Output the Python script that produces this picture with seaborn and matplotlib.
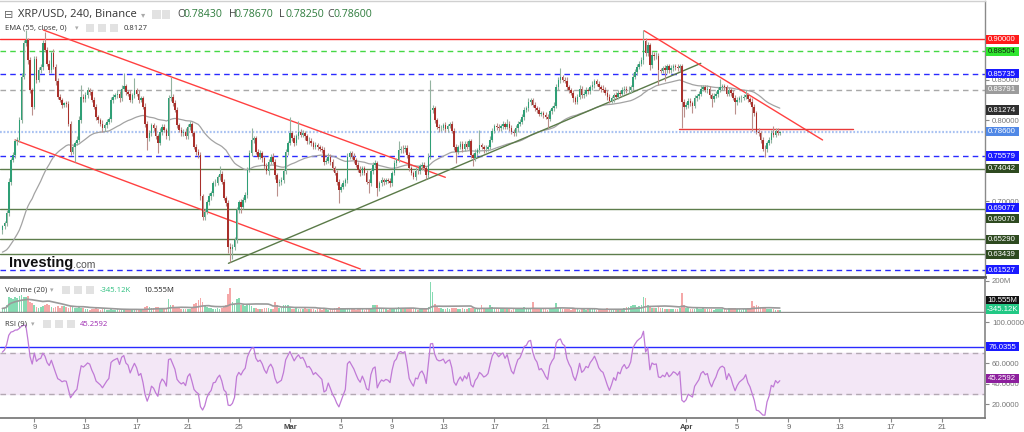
import numpy as np
import pandas as pd
import matplotlib
matplotlib.use("Agg")
import matplotlib.pyplot as plt
from matplotlib.patches import Rectangle
import seaborn as sns

# ---------------- data ----------------
title_text = "XRP/USD, 240, Binance"
header_keys = ["O", "H", "L", "C"]
header_vals = ["0.78430", "0.78670", "0.78250", "0.78600"]
ema_header = "EMA (55, close, 0)"
ema_header_val = "0.8127"
vol_header = "Volume (20)"
vol_header_vals = ["-345.12K", "10.555M"]
rsi_header = "RSI (9)"
rsi_header_val = "45.2592"

# 4h candles, first candle Feb 6 12:00 (days relative to Feb 9 00:00)
first_day = -2.5
first_open = 0.664
closes = [
    0.669, 0.673, 0.685, 0.724, 0.751, 0.757, 0.774, 0.776, 0.800, 0.854,
    0.895, 0.899, 0.874, 0.837, 0.817, 0.876, 0.850, 0.862, 0.866, 0.895,
    0.887, 0.870, 0.862, 0.883, 0.866, 0.848, 0.829, 0.825, 0.819, 0.821,
    0.820, 0.796, 0.761, 0.767, 0.772, 0.776, 0.800, 0.829, 0.826, 0.831,
    0.837, 0.835, 0.825, 0.817, 0.804, 0.800, 0.796, 0.790, 0.794, 0.798,
    0.801, 0.825, 0.829, 0.831, 0.833, 0.827, 0.839, 0.842, 0.835, 0.833,
    0.825, 0.831, 0.837, 0.833, 0.825, 0.827, 0.817, 0.796, 0.778, 0.784,
    0.794, 0.790, 0.780, 0.772, 0.786, 0.792, 0.788, 0.780, 0.827, 0.829,
    0.821, 0.813, 0.794, 0.788, 0.784, 0.786, 0.780, 0.792, 0.796, 0.784,
    0.767, 0.761, 0.757, 0.706, 0.681, 0.687, 0.699, 0.706, 0.710, 0.722,
    0.723, 0.730, 0.734, 0.724, 0.704, 0.698, 0.644, 0.641, 0.644, 0.652,
    0.689, 0.699, 0.693, 0.702, 0.708, 0.739, 0.759, 0.776, 0.778, 0.761,
    0.755, 0.759, 0.753, 0.743, 0.737, 0.749, 0.755, 0.749, 0.732, 0.722,
    0.724, 0.726, 0.737, 0.761, 0.772, 0.784, 0.778, 0.772, 0.780, 0.786,
    0.782, 0.784, 0.780, 0.774, 0.775, 0.772, 0.767, 0.769, 0.767, 0.765,
    0.763, 0.749, 0.750, 0.755, 0.749, 0.741, 0.735, 0.724, 0.714, 0.718,
    0.722, 0.726, 0.755, 0.759, 0.755, 0.751, 0.745, 0.739, 0.735, 0.741,
    0.735, 0.724, 0.722, 0.737, 0.745, 0.747, 0.716, 0.722, 0.726, 0.724,
    0.726, 0.725, 0.722, 0.735, 0.747, 0.751, 0.763, 0.765, 0.764, 0.766,
    0.757, 0.741, 0.735, 0.730, 0.738, 0.737, 0.743, 0.745, 0.741, 0.732,
    0.755, 0.813, 0.815, 0.800, 0.792, 0.790, 0.791, 0.794, 0.789, 0.793,
    0.795, 0.787, 0.767, 0.761, 0.767, 0.771, 0.765, 0.771, 0.767, 0.774,
    0.757, 0.753, 0.760, 0.763, 0.769, 0.767, 0.764, 0.765, 0.767, 0.776,
    0.787, 0.793, 0.792, 0.790, 0.793, 0.795, 0.792, 0.796, 0.791, 0.786,
    0.784, 0.790, 0.796, 0.798, 0.804, 0.813, 0.815, 0.823, 0.825, 0.819,
    0.815, 0.813, 0.808, 0.809, 0.807, 0.804, 0.802, 0.811, 0.815, 0.818,
    0.841, 0.850, 0.853, 0.850, 0.849, 0.841, 0.837, 0.834, 0.827, 0.823,
    0.829, 0.839, 0.831, 0.833, 0.837, 0.836, 0.841, 0.844, 0.848, 0.845,
    0.841, 0.839, 0.838, 0.834, 0.829, 0.824, 0.827, 0.831, 0.829, 0.834,
    0.833, 0.837, 0.839, 0.837, 0.838, 0.841, 0.854, 0.860, 0.866, 0.870,
    0.874, 0.898, 0.883, 0.893, 0.868, 0.881, 0.879, 0.880, 0.862, 0.861,
    0.864, 0.862, 0.867, 0.862, 0.864, 0.867, 0.866, 0.864, 0.867, 0.823,
    0.817, 0.819, 0.824, 0.821, 0.818, 0.827, 0.830, 0.833, 0.839, 0.841,
    0.838, 0.839, 0.831, 0.826, 0.830, 0.833, 0.838, 0.841, 0.842, 0.841,
    0.833, 0.837, 0.834, 0.828, 0.822, 0.825, 0.827, 0.828, 0.829, 0.831,
    0.826, 0.823, 0.817, 0.809, 0.786, 0.784, 0.776, 0.765, 0.764, 0.772,
    0.776, 0.784, 0.782, 0.787, 0.7843, 0.786,
]
# wick lengths beyond the body, in units of 0.001
up_wick = [
    2, 3, 4, 5, 3, 4, 3, 3, 4, 5,   4, 12, 3, 4, 3, 4, 3, 4, 3, 4,
    14, 3, 4, 3, 5, 3, 4, 3, 3, 2,  3, 4, 3, 3, 2, 4, 5, 15, 3, 4,
    4, 3, 3, 4, 3, 2, 3, 4, 3, 3,   3, 4, 3, 3, 4, 3, 4, 17, 3, 3,
    4, 3, 15, 3, 4, 3, 3, 4, 3, 4,  3, 3, 4, 3, 4, 3, 3, 3, 4, 25,
    3, 4, 3, 3, 4, 3, 4, 3, 3, 2,   3, 4, 3, 4, 3, 4, 3, 4, 3, 3,
    4, 3, 9, 3, 4, 3, 3, 4, 3, 4,   4, 3, 4, 3, 4, 3, 4, 14, 3, 3,
    3, 4, 3, 3, 4, 3, 3, 4, 3, 3,   3, 4, 3, 4, 3, 20, 3, 4, 3, 13,
    3, 4, 3, 3, 4, 3, 3, 4, 3, 3,   3, 4, 3, 4, 3, 3, 3, 4, 3, 3,
    4, 3, 4, 3, 3, 4, 3, 3, 4, 3,   3, 4, 3, 4, 3, 4, 3, 3, 4, 3,
    3, 3, 4, 3, 4, 3, 11, 3, 4, 3,  3, 4, 3, 3, 4, 3, 3, 4, 3, 3,
    4, 37, 4, 3, 3, 4, 3, 3, 4, 3,  3, 4, 3, 4, 3, 3, 4, 3, 4, 3,
    3, 3, 4, 3, 19, 3, 3, 4, 3, 4,  3, 3, 4, 3, 3, 4, 3, 6, 3, 3,
    3, 4, 3, 3, 4, 3, 3, 4, 3, 3,   3, 3, 4, 3, 3, 3, 4, 3, 3, 4,
    4, 3, 11, 3, 3, 4, 3, 3, 4, 3,  3, 4, 3, 3, 4, 3, 3, 4, 3, 3,
    3, 3, 4, 3, 3, 4, 3, 3, 4, 3,   3, 4, 3, 3, 4, 3, 4, 3, 4, 3,
    4, 13, 4, 4, 3, 4, 3, 4, 3, 3,  3, 4, 3, 3, 4, 3, 3, 4, 3, 3,
    3, 3, 4, 3, 3, 4, 3, 3, 4, 3,   3, 4, 3, 3, 4, 3, 3, 10, 3, 3,
    3, 4, 3, 3, 3, 4, 3, 3, 4, 6,   3, 3, 4, 3, 3, 4, 3, 3, 4, 3,
    3, 4, 9, 3, 3, 1,
]
dn_wick = [
    4, 3, 3, 3, 4, 3, 3, 4, 3, 3,   3, 3, 4, 3, 10, 3, 4, 3, 3, 4,
    3, 3, 4, 3, 3, 4, 3, 3, 4, 3,   3, 3, 4, 3, 18, 3, 3, 3, 4, 3,
    3, 4, 3, 3, 4, 3, 3, 4, 3, 3,   3, 3, 4, 3, 3, 4, 3, 3, 4, 3,
    3, 4, 3, 3, 4, 3, 3, 4, 15, 3,  4, 3, 3, 13, 3, 4, 3, 3, 4, 3,
    3, 3, 4, 3, 3, 4, 3, 3, 4, 3,   3, 4, 3, 4, 4, 4, 3, 3, 4, 3,
    3, 3, 4, 3, 3, 4, 8, 16, 12, 4, 3, 3, 8, 3, 3, 4, 3, 3, 4, 3,
    3, 3, 4, 3, 3, 4, 3, 3, 4, 16,  3, 4, 3, 3, 4, 3, 3, 4, 3, 3,
    3, 3, 4, 3, 3, 4, 3, 3, 4, 3,   3, 4, 3, 3, 4, 3, 3, 4, 16, 3,
    3, 3, 4, 3, 3, 4, 3, 3, 4, 3,   3, 3, 12, 3, 3, 4, 10, 3, 3, 4,
    3, 3, 4, 3, 3, 4, 3, 3, 4, 3,   3, 4, 3, 3, 4, 3, 3, 4, 3, 4,
    3, 3, 4, 3, 3, 4, 3, 3, 4, 3,   3, 3, 4, 14, 3, 3, 4, 3, 3, 4,
    3, 10, 3, 4, 3, 3, 4, 3, 3, 3,  3, 3, 4, 3, 3, 4, 3, 3, 4, 3,
    3, 3, 4, 3, 3, 4, 3, 3, 4, 3,   3, 4, 3, 3, 4, 3, 12, 3, 3, 4,
    3, 3, 4, 3, 3, 4, 3, 3, 4, 3,   3, 3, 4, 3, 3, 4, 3, 3, 4, 3,
    3, 4, 3, 3, 4, 3, 3, 4, 3, 3,   3, 3, 4, 3, 3, 4, 3, 3, 4, 3,
    3, 4, 3, 3, 6, 3, 4, 3, 18, 3,  3, 14, 3, 4, 3, 3, 4, 3, 3, 33,
    13, 3, 4, 3, 9, 3, 3, 4, 3, 3,  3, 4, 3, 9, 3, 3, 4, 3, 3, 4,
    3, 3, 4, 3, 14, 3, 3, 4, 3, 3,  3, 3, 30, 4, 3, 3, 4, 3, 9, 3,
    3, 4, 3, 3, 3, 2,
]
# volume per candle, millions
volumes = [
    20, 25, 40, 95, 90, 85, 92, 88, 100, 105,  98, 95, 102, 60, 55, 40, 30, 25, 30, 35,
    45, 50, 40, 30, 25, 30, 35, 25, 35, 35,    30, 25, 35, 30, 25, 20, 30, 25, 20, 15,
    15, 12, 18, 15, 20, 14, 12, 15, 18, 12,    10, 15, 12, 10, 14, 12, 18, 15, 12, 10,
    12, 14, 18, 12, 10, 15, 12, 30, 35, 30,    20, 25, 30, 28, 15, 15, 18, 20, 80, 45,
    40, 30, 20, 25, 18, 15, 15, 15, 18, 20,    50, 55, 75, 88, 60, 40, 30, 25, 20, 15,
    18, 20, 15, 20, 30, 40, 115, 155, 60, 50,  80, 90, 45, 40, 35, 50, 45, 35, 25, 20,
    18, 15, 18, 20, 25, 20, 15, 18, 60, 40,    25, 20, 45, 45, 40, 30, 18, 15, 20, 18,
    15, 18, 20, 15, 14, 18, 15, 12, 15, 14,    12, 20, 15, 12, 14, 18, 25, 22, 28, 20,
    22, 18, 25, 20, 15, 14, 12, 15, 18, 14,    12, 15, 18, 14, 45, 45, 40, 25, 18, 15,
    14, 12, 15, 18, 20, 25, 30, 20, 15, 14,    18, 22, 20, 15, 14, 12, 15, 18, 14, 16,
    30, 190, 130, 50, 30, 25, 20, 18, 15, 20,  18, 22, 25, 20, 18, 15, 20, 18, 15, 20,
    25, 22, 18, 15, 20, 45, 20, 18, 15, 45,    30, 20, 18, 15, 14, 18, 15, 20, 14, 12,
    15, 18, 20, 18, 25, 30, 20, 18, 15, 60,    25, 20, 15, 18, 14, 15, 12, 18, 20, 25,
    57, 25, 20, 18, 15, 14, 15, 12, 15, 18,    14, 12, 15, 14, 12, 15, 14, 18, 15, 12,
    14, 12, 15, 18, 20, 15, 12, 14, 12, 15,    14, 18, 25, 30, 28, 35, 45, 40, 30, 35,
    40, 97, 86, 40, 30, 25, 20, 25, 28, 22,    20, 18, 15, 18, 15, 14, 15, 18, 20, 122,
    40, 25, 20, 18, 15, 18, 20, 15, 18, 20,    15, 14, 18, 15, 12, 14, 15, 18, 15, 14,
    12, 25, 25, 22, 20, 15, 14, 12, 15, 18,    20, 25, 70, 35, 40, 35, 30, 25, 20, 18,
    15, 18, 14, 12, 10, 10.555,
]
ema_seed = 0.636
ema_span = 55
rsi_len = 9
rsi_seed_gain, rsi_seed_loss = 0.0045, 0.0021
vol_ma_len = 20

# horizontal levels drawn on the price pane
level_prices = [0.90000, 0.88504, 0.85735, 0.83791, 0.78600, 0.75579, 0.74042,
                0.69070, 0.65290, 0.63439, 0.61527]
# right-axis price labels
label_texts = ["0.90000", "0.88504", "0.85735", "0.83791", "0.81274", "0.78600",
               "0.75579", "0.74042", "0.69077", "0.69070", "0.65290", "0.63439", "0.61527"]
label_prices = [0.90000, 0.88504, 0.85735, 0.83791, 0.81274, 0.78600,
                0.75579, 0.74042, 0.69077, 0.69070, 0.65290, 0.63439, 0.61527]
# drawn trend lines: (day, price) start and end
trend_d0 = [0.705, -1.51, 15.19, 47.72, 50.46]
trend_p0 = [0.9115, 0.7757, 0.6234, 0.9106, 0.7890]
trend_d1 = [32.16, 25.51, 52.15, 61.68, 64.03]
trend_p1 = [0.7296, 0.6164, 0.8703, 0.7757, 0.7890]
rsi_level = 76.0355
rsi_label = "76.0355"
rsi_ticks = [20, 40, 60, 80, 100]
tick_days = [0, 4, 8, 12, 16, 20, 24, 28, 32, 36, 40, 44, 51, 55, 59, 63, 67, 71]
tick_labels = ["9", "13", "17", "21", "25", "Mar", "5", "9", "13", "17", "21", "25",
               "Apr", "5", "9", "13", "17", "21"]

# ---------------- styles ----------------
sns.set_theme(style="white")
plt.rcParams["font.family"] = ["Liberation Sans", "DejaVu Sans"]
HDR = ["Open Sans", "DejaVu Sans"]

level_colors = ["#ff2a2a", "#45d845", "#2a2aff", "#a8a8a8", "#a9c2f2", "#2a2aff", "#5d7d4c",
                "#5d7d4c", "#5d7d4c", "#5d7d4c", "#2a2aff"]
level_ls = ["solid", "dash", "dash", "dash", "dot", "dash", "solid", "solid", "solid", "solid", "dash"]
label_bg = ["#ff1a1a", "#2fe62f", "#1a1aff", "#9c9c9c", "#2f2f2f", "#5088e6",
            "#1a1aff", "#2e4a20", "#1a1aff", "#2e4a20", "#2e4a20", "#2e4a20", "#1a1aff"]
label_fg = ["white", "#102010", "white", "white", "white", "white",
            "white", "white", "white", "white", "white", "white", "white"]
label_dy = [0, 0, 0, 0, 0, 0, 0, 0, -1, 10, 0, 0, 0]
trend_colors = ["#ff4040", "#ff4040", "#5a7a48", "#ff4040", "#e83a3a"]
UP, DN = "#2f9f76", "#a9302b"
UPW, DNW = "#93b3a0", "#bb8f8b"

W, H = 1024, 432
RX = 985
fig = plt.figure(figsize=(W / 100, H / 100), dpi=100)
fig.patch.set_facecolor("white")


def fx(px):
    return px / W


def fy(py):
    return 1 - py / H


ax = fig.add_axes([0, fy(277), fx(RX), (277 - 1) / H])
axv = fig.add_axes([0, fy(311.5), fx(RX), (311.5 - 278.5) / H])
axr = fig.add_axes([0, fy(418), fx(RX), (418 - 312.5) / H])
XL = (-2.686, 74.39)

# ---------------- derived series ----------------
c = np.array(closes)
o = np.r_[first_open, c[:-1]]
n = len(c)
x = first_day + np.arange(n) / 6.0
up = c >= o
body_lo = np.minimum(o, c)
body_hi = np.maximum(o, c)
hi = body_hi + np.array(up_wick) * 0.001
lo = body_lo - np.array(dn_wick) * 0.001
ema = pd.Series(np.r_[ema_seed, c]).ewm(span=ema_span, adjust=False).mean().values[1:]
d = np.diff(np.r_[first_open, c])
g = pd.Series(np.r_[rsi_seed_gain, np.clip(d, 0, None)]).ewm(alpha=1 / rsi_len, adjust=False).mean().values[1:]
l = pd.Series(np.r_[rsi_seed_loss, np.clip(-d, 0, None)]).ewm(alpha=1 / rsi_len, adjust=False).mean().values[1:]
rsi = 100 - 100 / (1 + g / l)
vol = np.array(volumes, dtype=float)
vol_ma = pd.Series(vol).rolling(vol_ma_len, min_periods=1).mean().values

# ---------------- price pane ----------------
ax.set_xlim(*XL)
ax.set_ylim(0.6065, 0.9473)
for p, col, ls in zip(level_prices, level_colors, level_ls):
    if ls == "solid":
        ax.axhline(p, color=col, lw=1.0, zorder=1)
    elif ls == "dash":
        ax.axhline(p, color=col, lw=1.0, dashes=(4, 3), zorder=1)
    else:
        ax.axhline(p, color=col, lw=1.6, dashes=(0.8, 0.8), zorder=1)

sns.lineplot(x=x, y=ema, ax=ax, color="#a3a3a3", linewidth=0.9, estimator=None, sort=False, zorder=2)
for d0, p0, d1, p1, col in zip(trend_d0, trend_p0, trend_d1, trend_p1, trend_colors):
    sns.lineplot(x=[d0, d1], y=[p0, p1], ax=ax, color=col, linewidth=1.0, estimator=None,
                 sort=False, zorder=2.2)

ax.vlines(x, lo, hi, colors=np.where(up, UPW, DNW), linewidth=0.8, zorder=3)
ax.bar(x, np.maximum(body_hi - body_lo, 0.0008), bottom=body_lo, width=0.12,
       color=np.where(up, UP, DN), linewidth=0, zorder=4)

ax.yaxis.tick_right()
ax.set_yticks([0.70, 0.80, 0.85])
ax.yaxis.set_major_formatter(matplotlib.ticker.FormatStrFormatter("%.5f"))
ax.tick_params(axis="y", length=3, width=0.8, color="#888888", labelsize=5.6,
               labelcolor="#777777", pad=2, right=True)
ax.set_xticks([])
ax.spines["left"].set_visible(False)
ax.spines["top"].set_color("#d0d0d0")
ax.spines["top"].set_linewidth(1)
ax.spines["bottom"].set_color("#555555")
ax.spines["bottom"].set_linewidth(2)
ax.spines["right"].set_color("#8a8a8a")
ax.spines["right"].set_linewidth(1)
ax.set_xlabel("")
ax.set_ylabel("")

fig.canvas.draw()


def price_to_py(axis, val):
    return H - axis.transData.transform((0, val))[1]


def right_label(py, text, bg, fg):
    fig.add_artist(Rectangle((fx(985.5), fy(py + 4.6)), 33 / W, 9.2 / H,
                             transform=fig.transFigure, fc=bg, ec="none", zorder=10))
    fig.text(fx(1002), fy(py + 0.3), text, color=fg, fontsize=5.6, ha="center", va="center",
             zorder=11)


for t, p, bg, fg, dy in zip(label_texts, label_prices, label_bg, label_fg, label_dy):
    right_label(price_to_py(ax, p) + dy, t, bg, fg)

# ---------------- volume pane ----------------
axv.set_xlim(*XL)
axv.set_ylim(0, 216)
axv.bar(x, vol, width=0.13, color=np.where(up, "#86dab2", "#f5a8a8"), linewidth=0, zorder=2)
sns.lineplot(x=x, y=vol_ma, ax=axv, color="#9a9a9a", linewidth=1.2, estimator=None, sort=False, zorder=3)
axv.yaxis.tick_right()
axv.set_yticks([200])
axv.set_yticklabels(["200M"])
axv.tick_params(axis="y", length=3, width=0.8, color="#888888", labelsize=5.6,
                labelcolor="#777777", pad=2, right=True)
axv.set_xticks([])
for s in ["left", "top"]:
    axv.spines[s].set_visible(False)
axv.spines["bottom"].set_color("#8a8a8a")
axv.spines["bottom"].set_linewidth(1)
axv.spines["right"].set_color("#8a8a8a")
axv.set_xlabel("")
axv.set_ylabel("")
right_label(300.7, vol_header_vals[1], "#111111", "white")
right_label(309.0, vol_header_vals[0], "#22c985", "white")

# ---------------- RSI pane ----------------
axr.set_xlim(*XL)
axr.set_ylim(6.6, 109.6)
axr.axhspan(30, 70, color="#f3e7f6", zorder=0)
axr.axhline(70, color="#b3a8b3", lw=1, dashes=(4, 3), zorder=1)
axr.axhline(30, color="#b3a8b3", lw=1, dashes=(4, 3), zorder=1)
axr.axhline(rsi_level, color="#2a2aff", lw=1, zorder=1)
sns.lineplot(x=x, y=rsi, ax=axr, color="#c07ad6", linewidth=0.9, estimator=None, sort=False, zorder=3)
axr.yaxis.tick_right()
axr.set_yticks(rsi_ticks)
# the 80 label is hidden behind the 76.0355 marker in the reference
axr.set_yticklabels(["%.4f" % v if v != 80 else "" for v in rsi_ticks])
axr.tick_params(axis="y", length=3, width=0.8, color="#888888", labelsize=5.6,
                labelcolor="#777777", pad=2, right=True)
axr.set_xticks(tick_days)
axr.set_xticklabels(tick_labels)
axr.tick_params(axis="x", length=3, width=0.8, color="#888888", labelsize=5.6,
                labelcolor="#666666", pad=1.5, bottom=True)
for tl in axr.get_xticklabels():
    if tl.get_text().isalpha():
        tl.set_fontweight("bold")
        tl.set_color("#444444")
for s in ["left", "top"]:
    axr.spines[s].set_visible(False)
axr.spines["bottom"].set_color("#777777")
axr.spines["right"].set_color("#8a8a8a")
axr.set_xlabel("")
axr.set_ylabel("")
fig.canvas.draw()
right_label(price_to_py(axr, rsi_level), rsi_label, "#1a1aff", "white")
right_label(price_to_py(axr, float(rsi_header_val)), rsi_header_val, "#8d1f9d", "white")


# ---------------- header texts ----------------
def icon(px, py, size=8.5):
    fig.add_artist(Rectangle((fx(px), fy(py + size / 2)), size / W, size / H,
                             transform=fig.transFigure, fc="#e2e2e2", ec="none", zorder=10))


fig.text(fx(4), fy(14.5), "⊟", fontsize=8, color="#666666", va="center", family=["DejaVu Sans"])
fig.text(fx(18), fy(14.5), title_text, fontsize=8.0, color="#333333", va="center", family=HDR)
fig.text(fx(141), fy(14.5), "▾", fontsize=6, color="#aaaaaa", va="center", family=["DejaVu Sans"])
icon(152, 14.5)
icon(161.5, 14.5)
hx = [177.5, 228.5, 279, 327.5]
for k, v, px in zip(header_keys, header_vals, hx):
    fig.text(fx(px), fy(14.5), k, fontsize=7.6, color="#444444", va="center", family=HDR)
    fig.text(fx(px + 6.2), fy(14.5), v, fontsize=7.6, color="#2f7d3e", va="center", family=HDR)

fig.text(fx(5), fy(28.3), ema_header, fontsize=5.5, color="#333333", va="center", family=HDR)
fig.text(fx(75), fy(28.3), "▾", fontsize=5, color="#aaaaaa", va="center", family=["DejaVu Sans"])
for px in [86, 98, 110]:
    icon(px, 28.3, 8)
fig.text(fx(124), fy(28.3), ema_header_val, fontsize=5.5, color="#333333", va="center", family=HDR)

fig.text(fx(5), fy(290), vol_header, fontsize=5.5, color="#333333", va="center", family=HDR)
fig.text(fx(50), fy(290), "▾", fontsize=5, color="#aaaaaa", va="center", family=["DejaVu Sans"])
for px in [62, 74, 86]:
    icon(px, 290, 8)
fig.text(fx(100), fy(290), vol_header_vals[0], fontsize=5.5, color="#2bbf7e", va="center", family=HDR)
fig.text(fx(143), fy(290), vol_header_vals[1], fontsize=5.5, color="#222222", va="center", family=HDR)

fig.text(fx(5), fy(324.3), rsi_header, fontsize=5.5, color="#333333", va="center", family=HDR)
fig.text(fx(31), fy(324.3), "▾", fontsize=5, color="#aaaaaa", va="center", family=["DejaVu Sans"])
for px in [43, 55, 67]:
    icon(px, 324.3, 8)
fig.text(fx(80), fy(324.3), rsi_header_val, fontsize=5.5, color="#9c27b0", va="center", family=HDR)

# Investing.com watermark
fig.text(fx(9), fy(263.5), "Investing", fontsize=10.5, fontweight="bold", color="#111111",
         va="center", family=["Liberation Sans"])
fig.text(fx(72.5), fy(265), ".com", fontsize=7.5, color="#555555", va="center", family=["Liberation Sans"])

fig.savefig("out.png", dpi=100, facecolor="white")
